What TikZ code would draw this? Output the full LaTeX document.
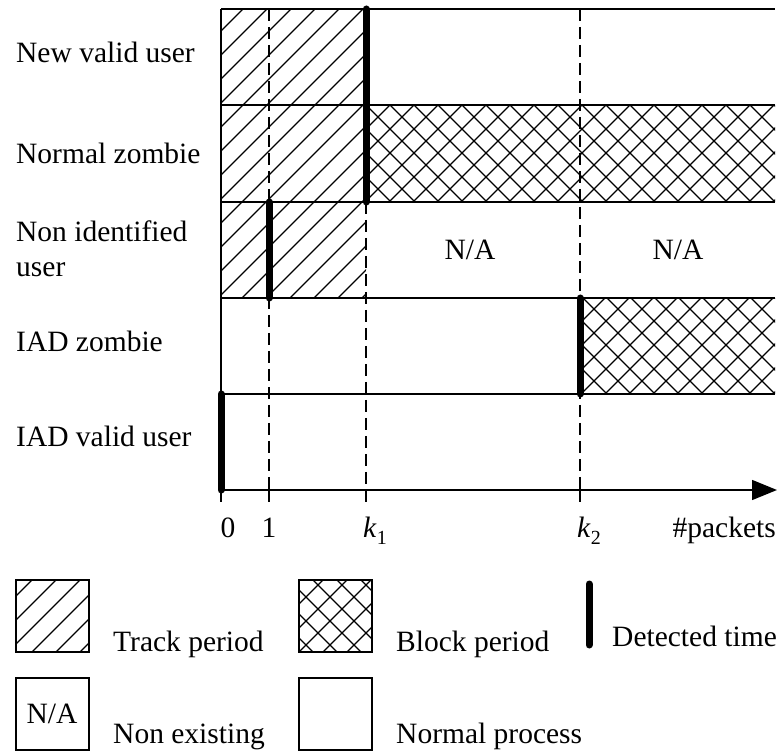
\documentclass[tikz,border=0pt]{standalone}
\usepackage{fontspec}
\setmainfont{Liberation Serif}
\usetikzlibrary{arrows.meta}

\begin{document}
\begin{tikzpicture}[x=1pt,y=-1pt,
  thinline/.style={line width=1.5pt},
  hatchline/.style={line width=1.2pt},
  detect/.style={line width=7pt,line cap=round},
  guide/.style={line width=1.4pt,dash pattern=on 12pt off 6pt},
  lbl/.style={font=\fontsize{29.5}{34}\selectfont,anchor=base west,inner sep=0pt},
  mid/.style={font=\fontsize{29.5}{34}\selectfont,inner sep=0pt}]
\useasboundingbox (0,0) rectangle (780,751);
% track period hatching
\begin{scope}
\clip (221,9) rectangle (366,298) (16,580) rectangle (89,652);
\foreach \c in {12,36,...,1452} \draw[hatchline] (\c,0) -- (0,\c);
\end{scope}
% block period hatching
\begin{scope}
\clip (366,105) rectangle (775,202) (580,298) rectangle (775,394) (299,580) rectangle (372,652);
\foreach \c in {15,39,...,1455} \draw[hatchline] (\c,0) -- (0,\c);
\foreach \d in {-411,-387,...,717} \draw[hatchline] (\d,0) -- ++(800,800);
\end{scope}
\foreach \y in {9,105,202,298,394}
  \draw[thinline] (221,\y) -- (775,\y);
\draw[thinline] (221,9) -- (221,394);
\draw[guide] (269,9) -- (269,490);
\draw[guide] (366,202) -- (366,490);
\draw[guide] (580,9) -- (580,490);
\foreach \x in {221,269,366,580}
  \draw[thinline] (\x,490) -- (\x,502);
\draw[thinline,-{Triangle[length=25pt,width=20pt]}] (221,490) -- (777,490);
\draw[detect] (366,9) -- (366,202);
\draw[detect] (269,202) -- (269,298);
\draw[detect] (580,298) -- (580,394);
\draw[detect] (221,394) -- (221,490);
\node[mid] (na1) at (470,250) {N/A};
\node[mid] (na2) at (678,250) {N/A};
\node[lbl] (newvalid) at (16,63) {New valid user};
\node[lbl] (normzombie) at (16,164) {Normal zombie};
\node[lbl] (nonid) at (16,242) {Non identified};
\node[lbl] (nonidb) at (16,277) {user};
\node[lbl] (iadzombie) at (16,352) {IAD zombie};
\node[lbl] (iadvalid) at (16,447) {IAD valid user};
\node[mid,anchor=base] (t0) at (228,537) {0};
\node[mid,anchor=base] (t1) at (269,537) {1};
\node[mid,anchor=base] (tk1) at (375,537) {\textit{k}\raisebox{-7pt}{\fontsize{20}{20}\selectfont 1}};
\node[mid,anchor=base] (tk2) at (589,537) {\textit{k}\raisebox{-7pt}{\fontsize{20}{20}\selectfont 2}};
\node[mid,anchor=base east] (tpk) at (776,537) {\#packets};
\draw[thinline] (16,580) rectangle (89,652);
\node[lbl] (ltrack) at (113,651) {Track period};
\draw[thinline] (299,580) rectangle (372,652);
\node[lbl] (lblock) at (396,651) {Block period};
\draw[detect] (589,584) -- (589,645);
\node[lbl] (ldetect) at (612,646) {Detected time};
\draw[thinline] (16,678) rectangle (89,750);
\node[mid,anchor=base] (lna) at (52,723) {N/A};
\node[lbl] (lnonex) at (113,743) {Non existing};
\draw[thinline] (299,678) rectangle (372,750);
\node[lbl] (lnormal) at (396,743) {Normal process};
\end{tikzpicture}
\end{document}
